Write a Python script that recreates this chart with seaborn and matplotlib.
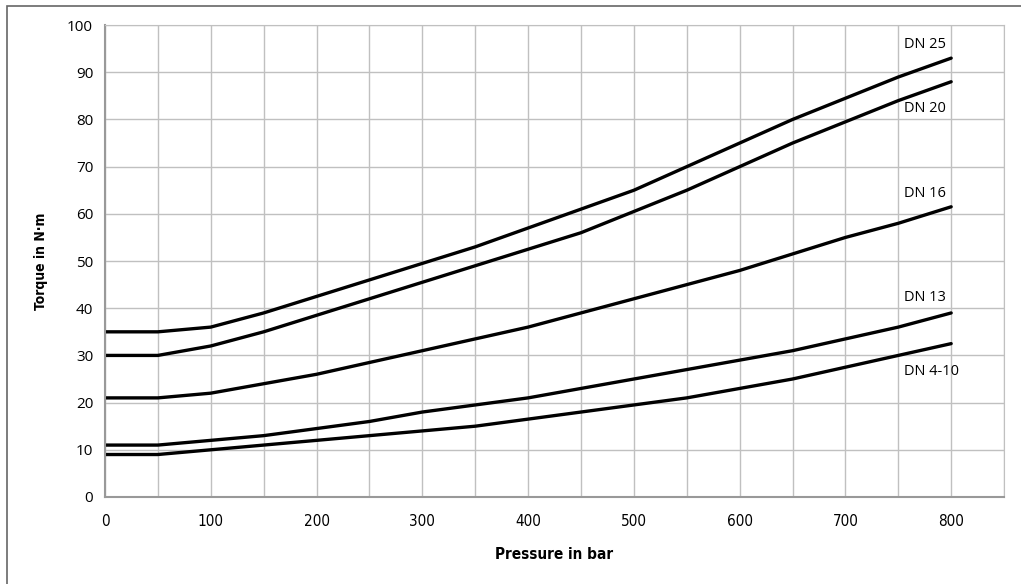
import numpy as np
import pandas as pd
import seaborn as sns
import matplotlib.pyplot as plt
from matplotlib.patches import Rectangle

# pressure steps (bar)
pressure = [0, 50, 100, 150, 200, 250, 300, 350, 400, 450, 500, 550, 600, 650, 700, 750, 800]

# torque curves (N·m)
dn25 = [35, 35, 36, 39, 42.5, 46, 49.5, 53, 57, 61, 65, 70, 75, 80, 84.5, 89, 93]
dn20 = [30, 30, 32, 35, 38.5, 42, 45.5, 49, 52.5, 56, 60.5, 65, 70, 75, 79.5, 84, 88]
dn16 = [21, 21, 22, 24, 26, 28.5, 31, 33.5, 36, 39, 42, 45, 48, 51.5, 55, 58, 61.5]
dn13 = [11, 11, 12, 13, 14.5, 16, 18, 19.5, 21, 23, 25, 27, 29, 31, 33.5, 36, 39]
dn4_10 = [9, 9, 10, 11, 12, 13, 14, 15, 16.5, 18, 19.5, 21, 23, 25, 27.5, 30, 32.5]

series_names = ["DN 25", "DN 20", "DN 16", "DN 13", "DN 4-10"]
label_y = [95.8, 82.4, 64.4, 42.2, 26.5]

df = pd.concat([
    pd.DataFrame({"pressure": pressure, "torque": vals, "size": name})
    for name, vals in zip(series_names, [dn25, dn20, dn16, dn13, dn4_10])
])

sns.set_style("white")
plt.rcParams['font.family'] = ['DejaVu Sans']
plt.rcParams['font.stretch'] = 'condensed'
plt.rcParams['text.color'] = 'black'
plt.rcParams['axes.labelcolor'] = 'black'
plt.rcParams['xtick.color'] = 'black'
plt.rcParams['ytick.color'] = 'black'

fig = plt.figure(figsize=(10.21, 5.84), dpi=100)
ax = fig.add_axes([0.1028, 0.149, 0.8806, 0.808])

sns.lineplot(data=df, x="pressure", y="torque", hue="size",
             palette=["black"] * 5, linewidth=2.4, legend=False, ax=ax)

for name, y in zip(series_names, label_y):
    ax.text(755, y, name, fontsize=10.5, va="center", ha="left",
            family=['Open Sans', 'DejaVu Sans'], stretch='normal')

ax.set_xlim(0, 850)
ax.set_ylim(0, 100)
ax.set_xticks(range(0, 801, 100))
ax.set_xticks(range(0, 851, 50), minor=True)
ax.set_yticks(range(0, 101, 10))
ax.grid(True, which="both", color="#c0c0c0", linewidth=1.0)
ax.set_axisbelow(True)
for s in ["top", "right"]:
    ax.spines[s].set_color("#c0c0c0")
for s in ["left", "bottom"]:
    ax.spines[s].set_color("#999999")
    ax.spines[s].set_linewidth(1.5)
ax.tick_params(axis="both", which="major", direction="out", length=5,
               color="#999999", labelsize=11)
ax.tick_params(axis="x", which="minor", length=0)
ax.tick_params(axis="x", pad=7)
for lbl in ax.get_yticklabels():
    lbl.set_family(['Open Sans', 'DejaVu Sans'])
    lbl.set_stretch('normal')

ax.set_xlabel("Pressure in bar", fontsize=11, fontweight="bold", labelpad=13)
ax.set_ylabel("Torque in N·m", fontsize=10, fontweight="bold", labelpad=14)

# outer chart frame
fig.patches.append(Rectangle((7 / 1021, -0.1), 1.2, 1.1 - 6 / 584,
                             transform=fig.transFigure, fill=False,
                             edgecolor="#666666", linewidth=1.2))

plt.savefig("out.png", dpi=100)
plt.close()
